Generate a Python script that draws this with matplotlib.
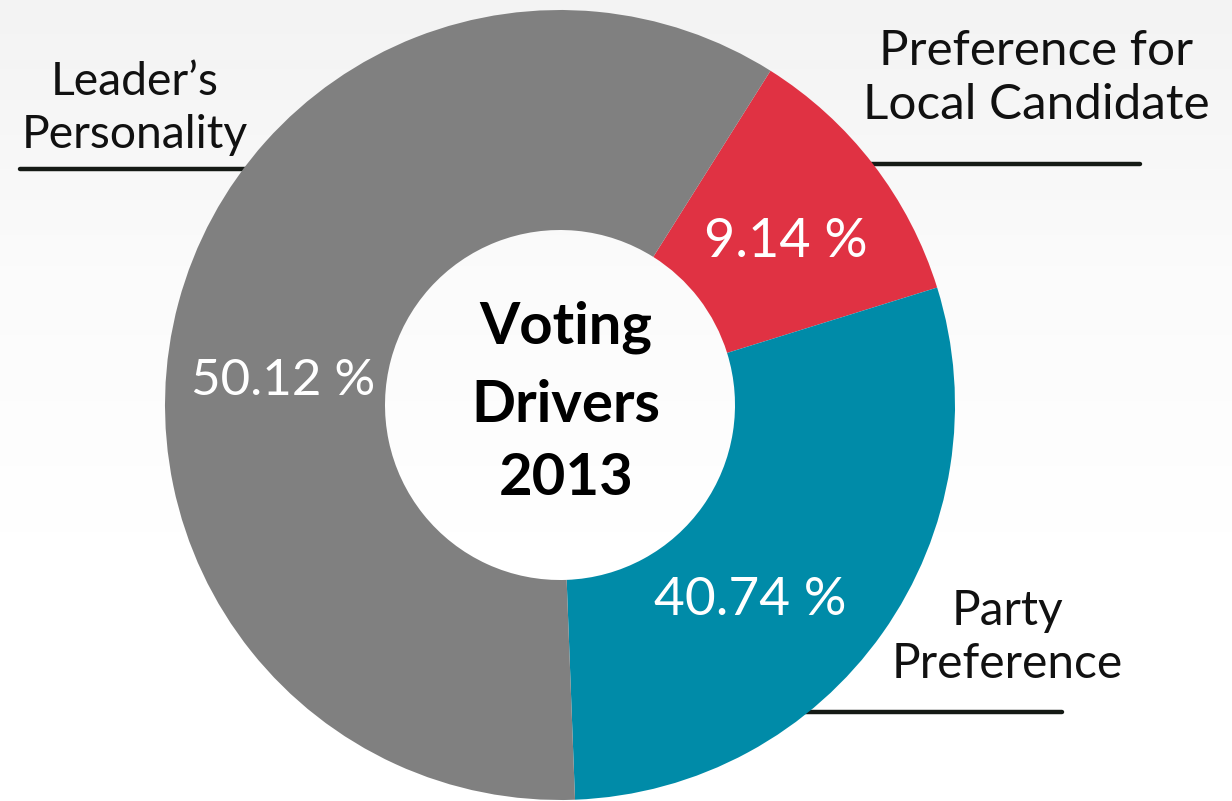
import matplotlib
matplotlib.use("Agg")
import matplotlib.pyplot as plt
import numpy as np
from matplotlib.textpath import TextPath
from matplotlib.font_manager import FontProperties
from matplotlib.colors import LinearSegmentedColormap

# ---------------- data ----------------
categories = ["Preference for\nLocal Candidate", "Party\nPreference", "Leader’s\nPersonality"]
pct_labels = ["9.14 %", "40.74 %", "50.12 %"]
# angular share of the ring as drawn in the reference (%)
wedge_sizes = [11.25, 29.2, 59.55]
colors = ["#E03243", "#008BA8", "#808080"]
title_lines = ["Voting", "Drivers", "2013"]

W, H = 1232, 801
fig = plt.figure(figsize=(W / 100, H / 100), dpi=100)
ax = fig.add_axes([0, 0, 1, 1])
ax.axis("off")


def Y(py):
    return H - py


# background: very light gradient towards the top
cmap = LinearSegmentedColormap.from_list("bg", ["#ffffff", "#ffffff", "#fbfbfb", "#f3f3f3"])
grad = np.linspace(0, 1, 256).reshape(-1, 1)
ax.imshow(grad, extent=[0, W, 0, H], origin="lower", cmap=cmap, aspect="auto", zorder=0)

cx, cy, R, r_in = 560, Y(405), 395, 175
ax.pie(wedge_sizes, colors=colors, startangle=90 - 32.2, counterclock=False,
       radius=R, center=(cx, cy),
       wedgeprops=dict(width=R - r_in, edgecolor="none", zorder=3))
ax.set_xlim(0, W)
ax.set_ylim(0, H)
ax.set_aspect("equal")


def fit_size(lines, target_w, target_cap, fp, kw=0.5):
    wmax = max(TextPath((0, 0), ln, size=100, prop=fp).get_extents().width for ln in lines)
    cap = TextPath((0, 0), "H", size=100, prop=fp).get_extents().height
    s_w = target_w / (wmax / 100) * 72 / 100
    s_h = target_cap / (cap / 100) * 72 / 100
    return kw * s_w + (1 - kw) * s_h


regular = FontProperties(family=["Lato", "DejaVu Sans"], weight="normal")
bold = FontProperties(family=["Lato", "DejaVu Sans"], weight="bold")


def block(lines, xc, baselines, target_w, target_cap, fp, color, z=5, kw=0.5):
    s = fit_size(lines, target_w, target_cap, fp, kw)
    for ln, b in zip(lines, baselines):
        ax.text(xc, Y(b), ln, ha="center", va="baseline", fontsize=s,
                fontproperties=fp, color=color, zorder=z)


# category labels (outside)
lab_pos = [(1036, [65, 119], 372), (1007, [625, 678], 240), (135, [95, 148], 230)]
for cat, (xc, bls, tw) in zip(categories, lab_pos):
    block(cat.split("\n"), xc, bls, tw, 32, regular, "#111111")

# underlines (drawn beneath the ring so they end at its edge)
ulines = [((860, 1140), 164), ((780, 1062), 712), ((20, 260), 169)]
for (x0, x1), yy in ulines:
    ax.plot([x0, x1], [Y(yy), Y(yy)], color="#151a15", lw=3.2,
            solid_capstyle="round", zorder=2)

# percentage labels inside the ring
pct_pos = [(786, 257, 157), (750, 615, 185), (283, 395, 167)]
for lab, (xc, b, tw) in zip(pct_labels, pct_pos):
    block([lab], xc, [b], tw, 39, regular, "white")

# centre title
block(title_lines, 566, [343, 422, 495], 190, 38, bold, "black", kw=0.7)

fig.savefig("out.png", dpi=100)
